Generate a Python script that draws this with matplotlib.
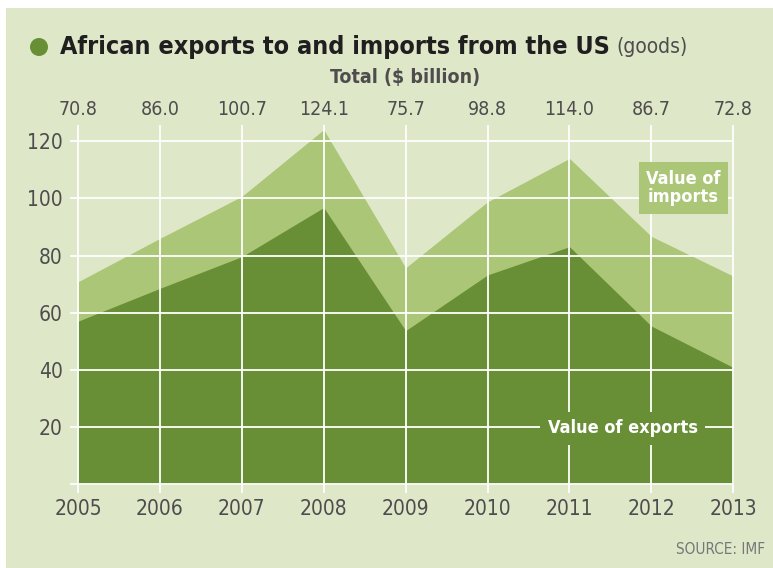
import matplotlib.pyplot as plt
from matplotlib.patches import Ellipse, Rectangle

years = [2005, 2006, 2007, 2008, 2009, 2010, 2011, 2012, 2013]
totals = [70.8, 86.0, 100.7, 124.1, 75.7, 98.8, 114.0, 86.7, 72.8]
exports = [57.0, 68.5, 79.6, 96.8, 53.7, 73.2, 83.1, 55.3, 40.8]
y_ticks = [20, 40, 60, 80, 100, 120]

BG = '#dfe7c9'
IMP = '#abc677'
EXP = '#688f35'
TXT = '#4d4d4d'

plt.rcParams['font.family'] = ['DejaVu Sans']
plt.rcParams['font.stretch'] = 'condensed'

fig = plt.figure(figsize=(7.73, 5.68), dpi=100)
fig.patch.set_facecolor('white')
fig.patches.append(Rectangle((6 / 773, 0), 1, 1 - 8 / 568, transform=fig.transFigure,
                             facecolor=BG, edgecolor='none', zorder=-10))

ax = fig.add_axes([78 / 773, (568 - 484) / 568, (733.3 - 78) / 773, (484 - 125) / 568])
ax.set_facecolor('none')
ax.set_xlim(2005, 2013)
ax.set_ylim(0, 125.7)
for s in ax.spines.values():
    s.set_visible(False)

ax.fill_between(years, 0, totals, color=IMP, linewidth=0, zorder=1)
ax.fill_between(years, 0, exports, color=EXP, linewidth=0, zorder=2)

# white grid drawn over the areas
ax.hlines([0] + y_ticks, 2005 - 0.1, 2013, color='white', linewidth=1.3, zorder=3, clip_on=False)
ax.vlines(years, -3, 125.7, color='white', linewidth=1.3, zorder=3, clip_on=False)

ax.set_xticks(years)
ax.set_xticklabels([str(y) for y in years], fontsize=15, color=TXT)
ax.set_yticks(y_ticks)
ax.set_yticklabels([str(v) for v in y_ticks], fontsize=15, color=TXT)
ax.tick_params(axis='x', length=0, pad=11)
ax.tick_params(axis='y', length=0, pad=11)

# totals row above each year
for x, t in zip(years, totals):
    ax.text(x, 131, f'{t:.1f}', ha='center', va='center', fontsize=14, color=TXT, clip_on=False)

ax.text(2011.65, 19.5, 'Value of exports', ha='center', va='center', fontsize=13,
        fontweight='bold', color='white', zorder=5,
        bbox=dict(boxstyle='square,pad=0.42', facecolor=EXP, edgecolor='none'))
ax.text(2012.39, 103.6, 'Value of\nimports', ha='center', va='center', fontsize=13,
        fontweight='bold', color='white', zorder=5, linespacing=1.05,
        bbox=dict(boxstyle='square,pad=0.42', facecolor=IMP, edgecolor='none'))

fig.patches.append(Ellipse((39 / 773, 1 - 47 / 568), 18 / 773, 18 / 568, transform=fig.transFigure,
                           facecolor=EXP, edgecolor='none'))
t1 = fig.text(60 / 773, 1 - 47 / 568, 'African exports to and imports from the US',
              fontsize=18, fontweight='bold', color='#1f1f1f', va='center', ha='left')
fig.canvas.draw()
bb = t1.get_window_extent()
fig.text(bb.x1 / 773 + 7 / 773, 1 - 47 / 568, '(goods)', fontsize=15, color=TXT,
         va='center', ha='left')

fig.text(405 / 773, 1 - 78 / 568, 'Total ($ billion)', fontsize=14, fontweight='bold',
         color=TXT, ha='center', va='center')
fig.text(765 / 773, 1 - 549 / 568, 'SOURCE: IMF', fontsize=11, color='#777777',
         ha='right', va='center')

fig.savefig('out.png', dpi=100, facecolor=fig.get_facecolor())
